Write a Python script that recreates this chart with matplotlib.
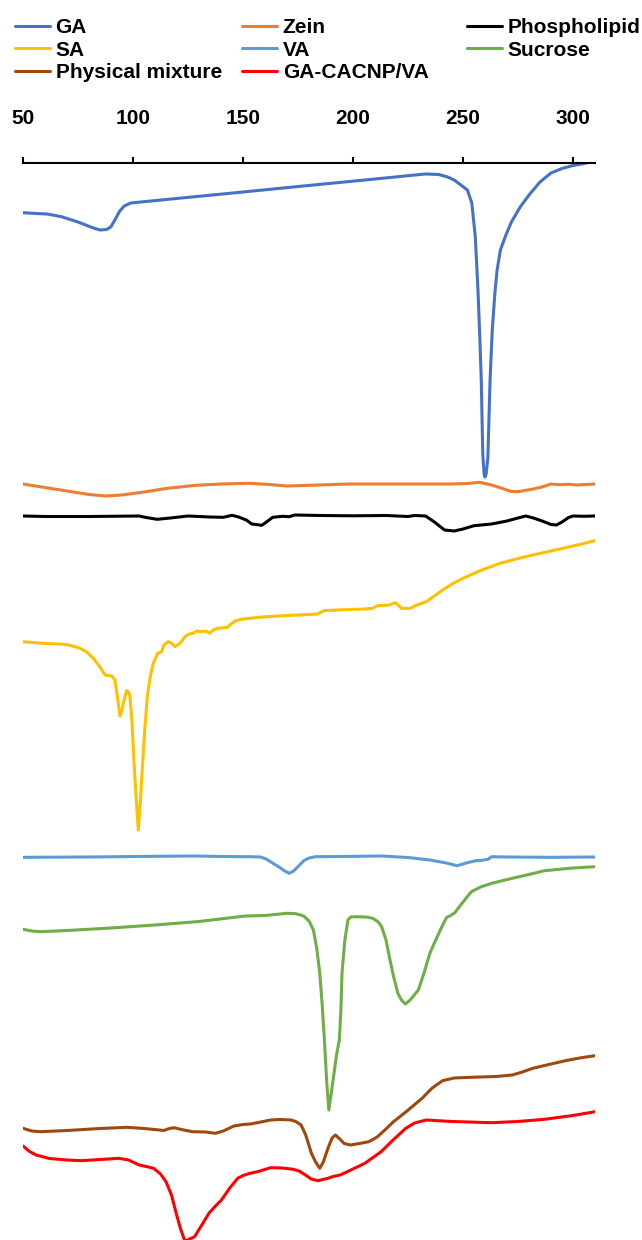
import matplotlib
matplotlib.use("Agg")
import matplotlib.pyplot as plt

plt.rcParams["font.family"] = ["Liberation Sans", "DejaVu Sans"]
plt.rcParams["font.weight"] = "bold"

# DSC thermograms, temperature in degC, heat flow as offset trace position (a.u., downward = endo)
ga_t = [50, 56, 61, 67.5, 75, 82, 85, 88, 90, 92, 94, 96, 99, 110, 130, 150, 170, 190, 210, 225,
        233, 239, 243, 246, 249, 252, 254, 255.6, 256.8, 257.6, 258.3, 259, 259.6, 260, 260.5,
        261.3, 262.3, 263.3, 264.5, 265.5, 267, 269.5, 272, 276, 280, 285, 290, 295, 300, 305, 310]
ga_y = [212.7, 213.5, 214, 216.7, 222, 228, 230, 229.5, 226.7, 219, 211, 206, 203, 200.6, 196.3,
        192, 187.6, 183.3, 179, 175.7, 174, 174.5, 177, 180, 185, 190, 203, 237, 290, 335, 380,
        455, 474, 477, 474, 458, 380, 330, 293, 270, 250, 235, 222, 207, 195, 182, 173, 168.5,
        165.5, 163.5, 160.7]

zein_t = [50, 60, 70, 80, 87.5, 95, 105, 115, 128.5, 140, 153, 162, 170, 180, 198, 220, 244.5,
          252, 257.5, 263, 268, 272, 275, 278, 282, 286, 290, 294, 298, 302, 306, 310]
zein_y = [484, 487.5, 491, 494.5, 496, 495, 492, 488.5, 485.3, 484, 483.3, 484.5, 486, 485.3, 484,
          484, 484, 483.5, 482.3, 485, 488.5, 491.5, 491.7, 490.5, 489, 487, 484, 484.7, 484.3,
          485, 484.5, 484]

phos_t = [50, 60, 80, 102.7, 106, 111, 117, 125, 135, 141, 145, 148, 151.5, 154, 158.5, 161,
          163.5, 168, 171, 173.5, 185, 200, 215, 225, 228, 233, 237, 241.6, 246, 250, 255, 263,
          270, 275, 278.5, 282, 286, 290, 292.5, 295, 298, 300, 305, 310]
phos_y = [516, 516.5, 516.5, 516, 517.5, 519.3, 518, 516, 517, 517.3, 515.3, 517, 520, 524, 525.3,
          521.5, 517.3, 516.3, 516.7, 515, 515.5, 515.8, 515.5, 516.5, 515.5, 516, 522, 530, 531,
          529, 525.7, 524, 521, 518, 516, 518, 521, 524.5, 525, 522, 517.5, 516, 516.3, 516]

sa_t = [50, 60, 66.8, 70.8, 76, 79, 82, 85, 87.3, 90.3, 91.8, 92.9, 94.1, 95, 95.6, 97.1, 98,
        98.6, 99.5, 100.5, 101.5, 102.4, 103.4, 104.4, 105.5, 106.5, 108, 109.2, 111.2, 113, 114,
        116, 117.5, 119, 121.4, 123.6, 125.5, 127.4, 129, 131, 133, 134.8, 136.5, 138.5, 143,
        144.5, 146.7, 150, 158.8, 170, 184, 186.7, 195, 205, 209, 211, 216.4, 219.3, 220.5, 222,
        226, 229, 233.3, 237, 240.7, 245, 250, 258, 266.8, 275, 281.7, 290, 300, 310]
sa_y = [641.7, 643.5, 644, 645, 648.3, 652, 658.3, 667, 675, 676, 680, 696.7, 716, 710, 703.3,
        690.7, 692, 696.7, 720, 763.3, 800, 830, 800, 763.3, 725, 696.7, 675, 663.3, 653.3, 651.7,
        645, 641.7, 643, 646.7, 643.3, 636.7, 634, 633.3, 631, 631.7, 631, 633.3, 630, 628.3,
        627.3, 624, 620.7, 619, 617, 615.5, 614, 610.7, 609.8, 609, 608.3, 605.7, 605, 602.7, 605,
        608.3, 608.3, 605, 601.7, 596, 590, 584, 578.3, 570.5, 563.3, 558.5, 555, 551, 546, 540.7]

va_t = [50, 80, 110, 128.5, 140, 153, 158, 160.5, 162.5, 166, 169, 171, 173, 175.5, 177.6, 180,
        183, 195, 213, 225, 235, 242, 247.3, 250, 252, 255.8, 258, 261.3, 263, 270, 290, 310]
va_y = [857.3, 857, 856.3, 856, 856.5, 856.7, 857, 859, 861.7, 866.5, 871, 873.3, 871, 865.5,
        860.7, 858, 856.7, 856.5, 856, 857.5, 860, 862.8, 865.7, 864, 862.7, 860.7, 860.5, 859.3,
        856.7, 857, 857.3, 857]

suc_t = [50, 54, 58, 70, 90, 110, 130, 151, 160, 170, 174, 177.6, 180, 182, 183.5, 184.9, 186,
         187, 188, 189, 190, 191.4, 192.5, 193.8, 194.5, 195, 196.3, 197.7, 199, 201.6, 206, 209,
         211.5, 213, 215, 216.5, 218.5, 220.4, 222, 223.8, 226, 229.7, 232, 235, 237, 239, 241,
         242.6, 244, 246.3, 250, 253.8, 258, 263, 272, 280, 287, 300, 310]
suc_y = [929.3, 931, 931.7, 930.5, 928, 925, 921.5, 916, 915.5, 913.3, 913.7, 916, 921, 930, 948,
         973, 1005, 1040, 1080, 1110, 1095, 1073, 1055, 1040, 1010, 973, 940, 920, 917, 916.7,
         917, 918.3, 922, 926.7, 940, 956.7, 977, 993.3, 1000, 1004, 1000, 990, 975, 953, 943,
         933.3, 924, 917.3, 916, 912.7, 902, 891.7, 887, 883.3, 878.5, 874.5, 870.7, 868, 866.7]

pm_t = [50, 54, 58, 70, 85, 97.3, 105, 112, 114, 116.5, 118.7, 122, 127, 133, 137.4, 141, 145.9,
        150, 153.4, 157, 162.5, 167, 171.8, 174, 176.4, 178.5, 181.1, 183, 184.9, 186.5, 188.6,
        190.5, 192, 194, 196, 198.8, 203, 207.2, 211, 214.5, 218.4, 224, 231.4, 236, 240.7, 246,
        253.8, 265, 272.4, 277, 281.7, 290, 296.6, 303, 310]
pm_y = [1128.3, 1131, 1131.7, 1130.5, 1128.5, 1127.3, 1128.5, 1130, 1130.5, 1128.5, 1127.7,
        1129.5, 1131.7, 1132, 1133.3, 1131, 1126, 1124.5, 1124, 1122.5, 1120, 1119.5, 1120,
        1121.5, 1125, 1135, 1153.3, 1162, 1168.3, 1162, 1148.3, 1138, 1135, 1139, 1143.5, 1145,
        1143.5, 1141.7, 1137, 1130, 1121.7, 1112, 1098.3, 1088, 1080.7, 1078, 1077.3, 1076.5,
        1075, 1072, 1068.3, 1064, 1060.7, 1058, 1055.7]

np_t = [50, 53, 56, 62, 70, 76.4, 85, 93.6, 98, 102.8, 106, 109.4, 112.5, 115, 117.5, 119.6,
        121.5, 123.4, 124.5, 126, 128, 131, 134.6, 137.5, 140.2, 144, 147.6, 150, 153.2, 157,
        162.5, 168, 172.8, 175.5, 178.4, 181, 184, 188.6, 191, 194.2, 200, 205.4, 212.8, 218, 224,
        228, 233.3, 245, 263, 275, 287, 300, 310]
np_y = [1146, 1151.5, 1155, 1158.5, 1160, 1160.7, 1159.5, 1158.3, 1160, 1165, 1166.5, 1168.3,
        1174, 1181.7, 1195, 1213, 1228, 1240, 1243, 1241, 1236.7, 1226, 1213, 1206, 1200, 1188,
        1178.3, 1175.5, 1173.3, 1171.5, 1167.7, 1168, 1169.3, 1171, 1175, 1179, 1180.7, 1178.3,
        1176.5, 1175, 1169, 1163.3, 1151.7, 1140.5, 1128.3, 1123, 1120, 1121.5, 1122.7, 1121.5,
        1119.3, 1115.5, 1111.7]

series = [
    ("GA", ga_t, ga_y, "#4472C4"),
    ("Zein", zein_t, zein_y, "#ED7D31"),
    ("Phospholipid", phos_t, phos_y, "#000000"),
    ("SA", sa_t, sa_y, "#FFC000"),
    ("VA", va_t, va_y, "#5B9BD5"),
    ("Sucrose", suc_t, suc_y, "#70AD47"),
    ("Physical mixture", pm_t, pm_y, "#9E480E"),
    ("GA-CACNP/VA", np_t, np_y, "#FF0000"),
]

W, H = 642, 1240
fig = plt.figure(figsize=(W / 100, H / 100), dpi=100)
ax = fig.add_axes([23 / W, 0, (595 - 23) / W, (H - 163) / H])

lines = {}
for name, t, y, c in series:
    (ln,) = ax.plot(t, y, color=c, lw=2.2, label=name, solid_capstyle="round",
                    solid_joinstyle="round")
    lines[name] = ln

ax.set_xlim(50, 310)
ax.set_ylim(H, 163)
ax.set_xticks([50, 100, 150, 200, 250, 300])
ax.xaxis.tick_top()
ax.tick_params(axis="x", direction="out", length=4, width=1.5, pad=21,
               labelsize=15, colors="black")
for lab in ax.get_xticklabels():
    lab.set_fontweight("bold")
ax.set_yticks([])
for s in ["bottom", "left", "right"]:
    ax.spines[s].set_visible(False)
ax.spines["top"].set_linewidth(1.5)

columns = [
    (["GA", "SA", "Physical mixture"], 15),
    (["Zein", "VA", "GA-CACNP/VA"], 242),
    (["Phospholipid", "Sucrose"], 467),
]
for names, x0 in columns:
    fig.legend([lines[n] for n in names], names, loc="upper left",
               bbox_to_anchor=(x0 / W, 1 - 18 / H), frameon=False, borderpad=0,
               borderaxespad=0, handlelength=1.7, handletextpad=0.25,
               labelspacing=0.18, prop={"size": 15, "weight": "bold"})

fig.savefig("out.png", dpi=100)
